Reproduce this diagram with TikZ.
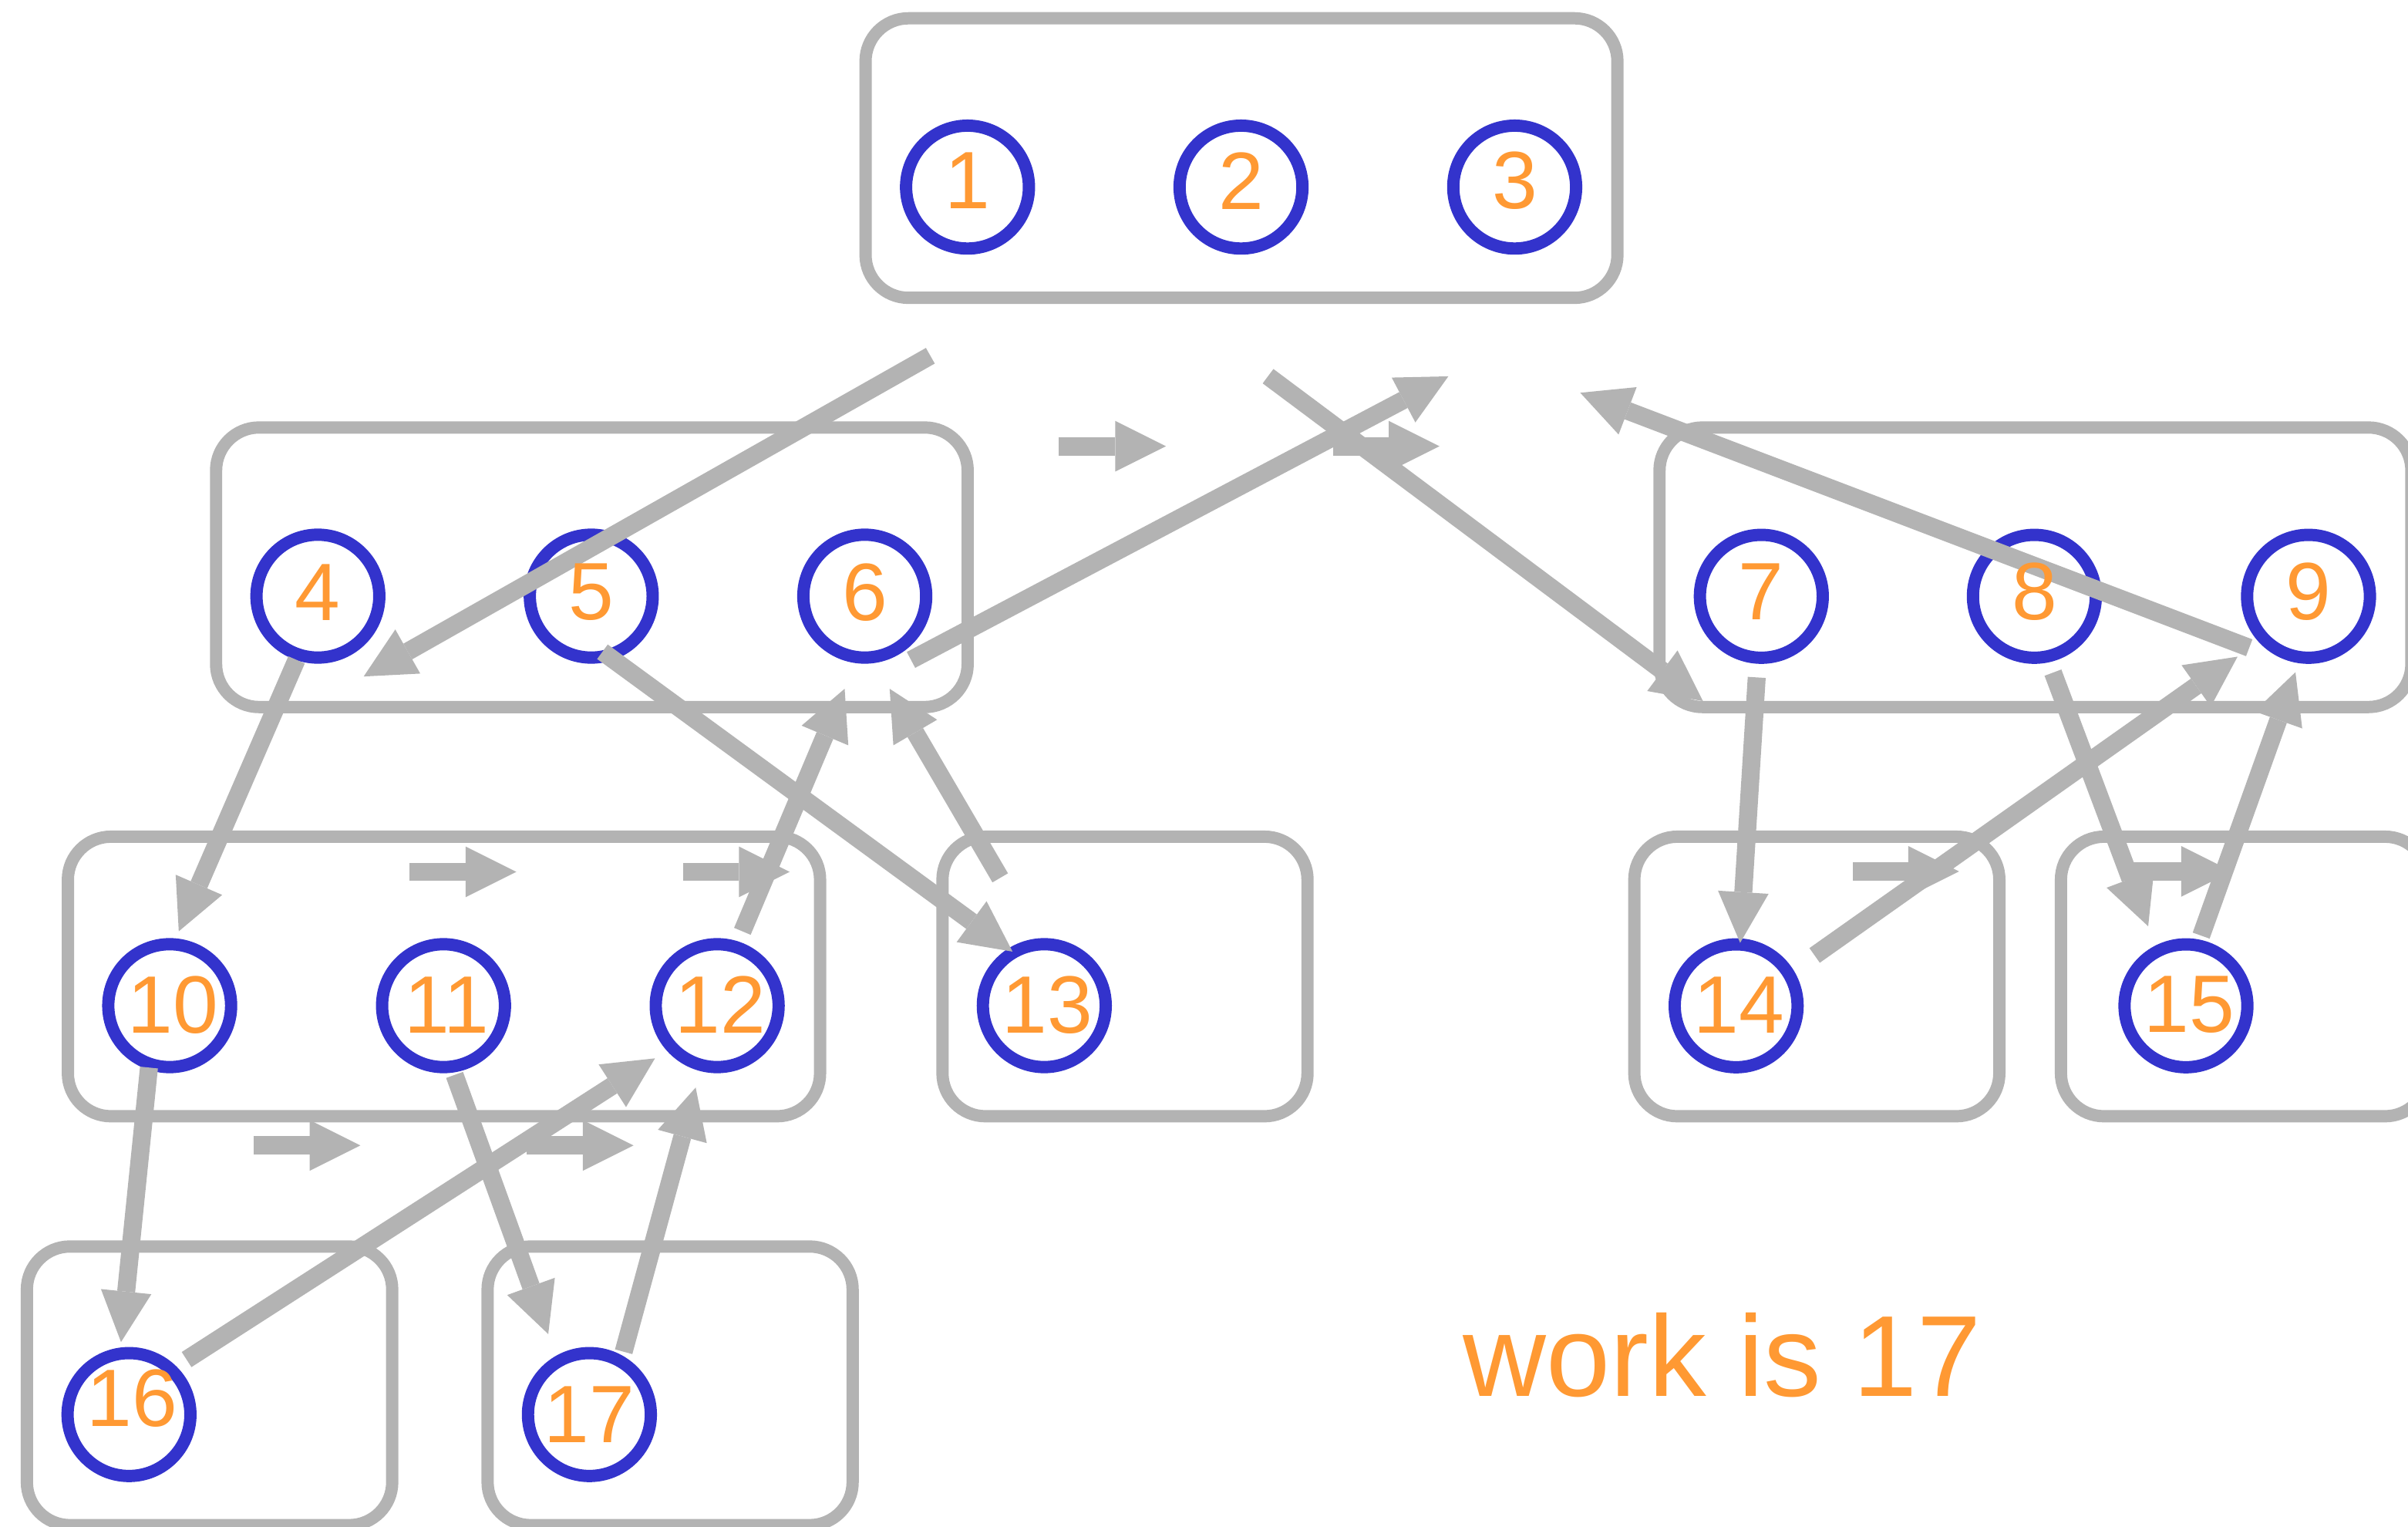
\documentclass[tikz,border=0pt]{standalone}
\usepackage{fontspec}
\setmainfont{Liberation Sans}
\usetikzlibrary{arrows.meta}
\definecolor{edgegray}{HTML}{B3B3B3}
\definecolor{ringblue}{HTML}{3333CC}
\definecolor{numorange}{HTML}{FF9933}
\tikzset{
  frame/.style={draw=edgegray, line width=8pt, rounded corners=28pt},
  ring/.style={circle, draw=ringblue, line width=8pt, minimum size=80pt, inner sep=0pt},
  num/.style={text=numorange, inner sep=0pt, font=\fontsize{53}{60}\selectfont},
  link/.style={draw=edgegray, line width=11.7pt,
    -{Triangle[length=33pt, width=33pt, line width=0pt]}},
  marker/.style={draw=edgegray, line width=12pt,
    -{Triangle[length=33pt, width=33pt, line width=0pt]}},
}
\begin{document}
\begin{tikzpicture}[x=1pt, y=-1pt]
\useasboundingbox (0,0) rectangle (1568,994);
\clip (0,0) rectangle (1568,994);

% groups
\draw[frame] (563.6,11.9) rectangle (1053.2,193.9);
\draw[frame] (140.7,278.3) rectangle (630.1,460.3);
\draw[frame] (1080.6,278.3) rectangle (1570.2,460.3);
\draw[frame] (44.2,544.7) rectangle (534,726.7);
\draw[frame] (613.7,544.7) rectangle (851.4,726.7);
\draw[frame] (1064.2,544.7) rectangle (1301.9,726.7);
\draw[frame] (1342,544.7) rectangle (1581,726.7);
\draw[frame] (17.5,811.5) rectangle (255.4,992.9);
\draw[frame] (317.5,811.5) rectangle (555.2,992.9);

% tasks
\node[ring] (n1) at (630,121.8) {};
\node[ring] (n2) at (808.1,121.8) {};
\node[ring] (n3) at (986.3,121.8) {};
\node[ring] (n4) at (207,388.1) {};
\node[ring] (n5) at (385,388.1) {};
\node[ring] (n6) at (563.1,388.1) {};
\node[ring] (n7) at (1146.9,388.2) {};
\node[ring] (n8) at (1324.7,388.2) {};
\node[ring] (n9) at (1503.2,388.2) {};
\node[ring] (n10) at (110.5,654.7) {};
\node[ring] (n11) at (288.8,654.7) {};
\node[ring] (n12) at (467,654.7) {};
\node[ring] (n13) at (680,654.7) {};
\node[ring] (n14) at (1130.5,654.8) {};
\node[ring] (n15) at (1423.4,654.8) {};
\node[ring] (n16) at (84,920.9) {};
\node[ring] (n17) at (383.8,920.9) {};

% end points of the steal arrows
\coordinate (a1s) at (605.8,231.6);  \coordinate (a1e) at (236.8,440.4);
\coordinate (a2s) at (593.2,429.6);  \coordinate (a2e) at (943.1,245);
\coordinate (a3s) at (825.7,244.9);  \coordinate (a3e) at (1108.9,456.4);
\coordinate (a4s) at (1464.6,421.7); \coordinate (a4e) at (1029,255.7);
\coordinate (a5s) at (193.1,429.6);  \coordinate (a5e) at (116.4,606.3);
\coordinate (a6s) at (392.3,424.3);  \coordinate (a6e) at (659.3,619.5);
\coordinate (a7s) at (651.3,571.5);  \coordinate (a7e) at (579.3,448.4);
\coordinate (a8s) at (483.4,606.3);  \coordinate (a8e) at (550,448.4);
\coordinate (a9s) at (1143.9,441);   \coordinate (a9e) at (1133.1,613.8);
\coordinate (a10s) at (1181.6,622);  \coordinate (a10e) at (1457,427.5);
\coordinate (a11s) at (1336.8,437.9); \coordinate (a11e) at (1398.8,603);
\coordinate (a12s) at (1433.3,609.1); \coordinate (a12e) at (1494.7,437.6);
\coordinate (a13s) at (97,695);      \coordinate (a13e) at (78.8,873.7);
\coordinate (a14s) at (121.5,885.1); \coordinate (a14e) at (426.5,689);
\coordinate (a15s) at (296,699.8);   \coordinate (a15e) at (357,868.5);
\coordinate (a16s) at (406.1,880);   \coordinate (a16e) at (453,708);

% end points of the short step markers
\coordinate (m1s) at (689.5,290.5);  \coordinate (m1e) at (759.2,290.5);
\coordinate (m2s) at (867.9,290.5);  \coordinate (m2e) at (937.3,290.5);
\coordinate (m3s) at (266.7,567.6);  \coordinate (m3e) at (336.2,567.6);
\coordinate (m4s) at (444.9,567.6);  \coordinate (m4e) at (514.2,567.6);
\coordinate (m5s) at (165,745.7);    \coordinate (m5e) at (234.6,745.7);
\coordinate (m6s) at (342.9,745.7);  \coordinate (m6e) at (412.5,745.7);
\coordinate (m7s) at (1206.5,567.3); \coordinate (m7e) at (1275.6,567.3);
\coordinate (m8s) at (1384.3,567.3); \coordinate (m8e) at (1453.3,567.3);

\foreach \i in {1,...,8} \draw[marker] (m\i s) -- (m\i e);
\foreach \i in {1,...,16} \draw[link] (a\i s) -- (a\i e);

% task labels
\node[num, yshift=4pt] (t1) at (n1) {1};
\node[num, yshift=4pt] (t2) at (n2) {2};
\node[num, yshift=4pt] (t3) at (n3) {3};
\node[num, yshift=2.5pt] (t4) at (n4) {4};
\node[num, yshift=2.5pt] (t5) at (n5) {5};
\node[num, yshift=2.5pt] (t6) at (n6) {6};
\node[num, yshift=3pt] (t7) at (n7) {7};
\node[num, yshift=3pt] (t8) at (n8) {8};
\node[num, yshift=3pt] (t9) at (n9) {9};
\node[num, xshift=2pt, yshift=0.5pt] (t10) at (n10) {10};
\node[num, xshift=2pt, yshift=0.5pt] (t11) at (n11) {11};
\node[num, xshift=2pt, yshift=0.5pt] (t12) at (n12) {12};
\node[num, xshift=2pt, yshift=0.5pt] (t13) at (n13) {13};
\node[num, xshift=2pt, yshift=0.5pt] (t14) at (n14) {14};
\node[num, xshift=2pt, yshift=0.5pt] (t15) at (n15) {15};
\node[num, xshift=2pt, yshift=10.8pt] (t16) at (n16) {16};
\node[num] (t17) at (n17) {17};

\node[text=numorange, inner sep=0pt, anchor=base west,
      font=\fontsize{75}{86}\selectfont] (work) at (952.5,909) {work is 17};
\end{tikzpicture}
\end{document}
